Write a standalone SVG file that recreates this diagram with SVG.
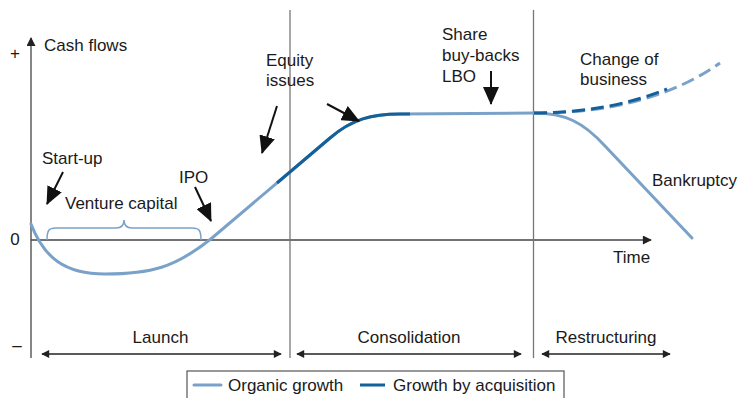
<svg xmlns="http://www.w3.org/2000/svg" width="739" height="398" viewBox="0 0 739 398">
  <style>
    text { font-family: "Liberation Sans", Arial, sans-serif; font-size: 17px; fill: #1a1a1a; }
    .mid { text-anchor: middle; }
    .axis { stroke: #444; stroke-width: 1.3; fill: none; }
    .divider { stroke: #777; stroke-width: 1.3; fill: none; }
    .organic { stroke: #7aa2c8; stroke-width: 3; fill: none; stroke-linecap: round; }
    .acquisition { stroke: #13609a; stroke-width: 3; fill: none; }
    .dash-light { stroke: #7aa2c8; stroke-width: 3; fill: none; stroke-dasharray: 13 6; }
    .dash-dark { stroke: #13609a; stroke-width: 3; fill: none; stroke-dasharray: 13 6; }
    .brace { stroke: #7aa2c8; stroke-width: 1.5; fill: none; }
    .pointer { stroke: #111; stroke-width: 2; fill: none; marker-end: url(#bigHead); }
    .span { stroke: #222; stroke-width: 1.5; fill: none; marker-start: url(#spanHead); marker-end: url(#spanHead); }
  </style>
  <defs>
    <marker id="axisHead" viewBox="0 0 10 10" refX="9" refY="5" markerWidth="11" markerHeight="9" markerUnits="userSpaceOnUse" orient="auto">
      <path d="M0,0 L10,5 L0,10 Z" fill="#222"/>
    </marker>
    <marker id="spanHead" viewBox="0 0 10 10" refX="9" refY="5" markerWidth="10" markerHeight="8" markerUnits="userSpaceOnUse" orient="auto-start-reverse">
      <path d="M0,0 L10,5 L0,10 Z" fill="#222"/>
    </marker>
    <marker id="bigHead" viewBox="0 0 18 16" refX="17" refY="8" markerWidth="18" markerHeight="16" markerUnits="userSpaceOnUse" orient="auto">
      <path d="M0,0 L18,8 L0,16 Z" fill="#111"/>
    </marker>
  </defs>

  <!-- axes and phase dividers -->
  <g id="axes">
    <line class="axis" x1="31" y1="358" x2="31" y2="38" marker-end="url(#axisHead)"/>
    <line class="axis" x1="31" y1="240" x2="651" y2="240" marker-end="url(#axisHead)"/>
    <line class="divider" x1="290" y1="10" x2="290" y2="358"/>
    <line class="divider" x1="533.5" y1="10" x2="533.5" y2="358"/>
    <text class="mid" x="15" y="59">+</text>
    <text class="mid" x="15" y="245">0</text>
    <text class="mid" x="17" y="351">–</text>
    <text x="44" y="51">Cash flows</text>
    <text x="613" y="263">Time</text>
  </g>

  <!-- cash-flow curves -->
  <g id="curves">
    <path class="organic" d="M31,224 C44,258 65,274 105,274 C150,274 175,268 212,238 L330,138 C352,119 372,114 400,114 L534,113"/>
    <path class="acquisition" d="M277,183 L330,138 C352,119 372,114 400,114 L410,114"/>
    <path class="organic" d="M534,113 C565,113 583,122 605,146 L692,238"/>
    <path class="dash-light" d="M534,113 C590,113 660,105 720,63"/>
    <path class="dash-dark" d="M534,113 C585,113 630,104 667,89"/>
    <path class="brace" d="M47,240 C47,230 49,228 56,228 L116,228 C121,228 124,226 124,220 C124,226 127,228 132,228 L192,228 C199,228 201,230 201,240"/>
  </g>

  <!-- event annotations -->
  <g id="connectors">
    <line class="pointer" x1="63" y1="172" x2="47" y2="204"/>
    <line class="pointer" x1="195" y1="187" x2="211" y2="221"/>
    <line class="pointer" x1="277" y1="106" x2="262" y2="153"/>
    <line class="pointer" x1="327" y1="104" x2="359" y2="121"/>
    <line class="pointer" x1="491" y1="71" x2="491" y2="104"/>
    <line class="span" x1="42" y1="354" x2="281" y2="354"/>
    <line class="span" x1="297" y1="354" x2="521" y2="354"/>
    <line class="span" x1="542" y1="354" x2="670" y2="354"/>
  </g>

  <g id="start-up"><text x="42" y="164">Start-up</text></g>
  <g id="venture-capital"><text x="65" y="209">Venture capital</text></g>
  <g id="ipo"><text x="179" y="183">IPO</text></g>
  <g id="equity-issues"><text x="266" y="66">Equity</text><text x="266" y="86">issues</text></g>
  <g id="share-buy-backs"><text x="442" y="40">Share</text><text x="442" y="61">buy-backs</text><text x="442" y="82">LBO</text></g>
  <g id="change-of-business"><text x="580" y="65">Change of</text><text x="580" y="85">business</text></g>
  <g id="bankruptcy"><text x="652" y="186">Bankruptcy</text></g>

  <g id="launch"><text class="mid" x="160.5" y="343">Launch</text></g>
  <g id="consolidation"><text class="mid" x="409" y="343">Consolidation</text></g>
  <g id="restructuring"><text class="mid" x="606" y="343">Restructuring</text></g>

  <!-- key -->
  <g id="legend">
    <rect x="187" y="371" width="377" height="40" fill="#fff" stroke="#555" stroke-width="1.2"/>
    <line class="organic" x1="194" y1="385" x2="221" y2="385" stroke-linecap="butt"/>
    <text x="228" y="391">Organic growth</text>
    <line class="acquisition" x1="360" y1="385" x2="385" y2="385"/>
    <text x="393" y="391">Growth by acquisition</text>
  </g>
</svg>
